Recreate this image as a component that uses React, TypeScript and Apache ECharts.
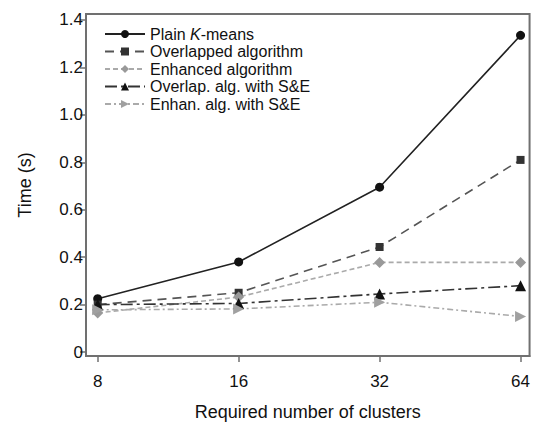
import React, { useEffect, useRef } from "react";
import * as echarts from "echarts";

const clusters = ["8", "16", "32", "64"];
const yTicks = [0, 0.2, 0.4, 0.6, 0.8, 1.0, 1.2, 1.4];

const plainKmeans = [0.225, 0.38, 0.695, 1.335];
const overlapped = [0.2, 0.25, 0.443, 0.81];
const enhanced = [0.165, 0.232, 0.378, 0.378];
const overlapSE = [0.2, 0.205, 0.245, 0.28];
const enhanSE = [0.178, 0.182, 0.21, 0.15];

const seriesNames = [
  "Plain K-means",
  "Overlapped algorithm",
  "Enhanced algorithm",
  "Overlap. alg. with S&E",
  "Enhan. alg. with S&E",
];

const FONT = "'Liberation Sans', Arial, sans-serif";

const toPts = (arr: number[]) => arr.map((v, i) => [i, v]);

export default function App() {
  const ref = useRef<HTMLDivElement>(null);
  useEffect(() => {
    if (!ref.current) return;
    const chart = echarts.init(ref.current, undefined, { renderer: "svg" });
    const mk = (
      name: string,
      data: number[],
      color: string,
      markerColor: string,
      type: any,
      symbol: string,
      symbolSize: number
    ) => ({
      name,
      type: "line",
      data: toPts(data),
      symbol,
      symbolSize,
      showSymbol: true,
      lineStyle: { color, width: 1.6, type },
      itemStyle: { color: markerColor, borderWidth: 0 },
      z: 3,
    });
    chart.setOption({
      animation: false,
      backgroundColor: "#ffffff",
      grid: {
        left: 86,
        right: 3,
        top: 14,
        bottom: 63,
        show: true,
        borderColor: "#707070",
        borderWidth: 2,
        backgroundColor: "transparent",
      },
      legend: {
        orient: "vertical",
        left: 104,
        top: 26,
        padding: 0,
        itemWidth: 40,
        itemHeight: 10,
        itemGap: 1.5,
        textStyle: {
          fontFamily: FONT,
          fontSize: 16,
          color: "#111",
          rich: {
            i: { fontStyle: "italic", fontSize: 16, fontFamily: FONT, color: "#111" },
          },
        },
        formatter: (n: string) =>
          n === seriesNames[0] ? "Plain {i|K}-means" : n,
        data: seriesNames,
      },
      xAxis: {
        type: "value",
        min: -0.083,
        max: 3.064,
        name: "Required number of clusters",
        nameLocation: "middle",
        nameGap: 47,
        nameTextStyle: { fontFamily: FONT, fontSize: 18, color: "#111" },
        axisLine: { show: true, onZero: false, lineStyle: { color: "#707070", width: 2 } },
        axisTick: {
          show: true,
          length: 6,
          lineStyle: { color: "#707070", width: 1.5 },
          customValues: [0, 1, 2, 3],
        },
        axisLabel: {
          fontFamily: FONT,
          fontSize: 17,
          color: "#111",
          margin: 17,
          customValues: [0, 1, 2, 3],
          formatter: (v: number) => clusters[Math.round(v)],
        },
        splitLine: { show: false },
      },
      yAxis: {
        type: "value",
        min: -0.0165,
        max: 1.425,
        name: "Time (s)",
        nameLocation: "middle",
        nameGap: 52,
        nameTextStyle: { fontFamily: FONT, fontSize: 18, color: "#111" },
        axisLine: { show: true, onZero: false, lineStyle: { color: "#707070", width: 2 } },
        axisTick: {
          show: true,
          length: 6,
          lineStyle: { color: "#707070", width: 1.5 },
          customValues: yTicks,
        },
        axisLabel: {
          fontFamily: FONT,
          fontSize: 17,
          color: "#111",
          margin: 3,
          customValues: yTicks,
          formatter: (v: number) => (v === 0 ? "0" : v.toFixed(1)),
        },
        splitLine: { show: false },
      },
      series: [
        mk(seriesNames[0], plainKmeans, "#222222", "#111111", "solid", "circle", 9),
        mk(seriesNames[1], overlapped, "#555555", "#333333", [9, 6], "rect", 8),
        mk(seriesNames[2], enhanced, "#aaaaaa", "#999999", [5, 3], "diamond", 11),
        mk(seriesNames[3], overlapSE, "#333333", "#111111", [12, 4, 3, 4], "triangle", 11),
        mk(
          seriesNames[4],
          enhanSE,
          "#aaaaaa",
          "#a0a0a0",
          [6, 3, 2, 3],
          "path://M0,0 L10,5 L0,10 Z",
          11
        ),
      ],
    });
    return () => chart.dispose();
  }, []);
  return (
    <div
      ref={ref}
      style={{ position: "fixed", left: 0, top: 0, width: 533, height: 426 }}
    />
  );
}
